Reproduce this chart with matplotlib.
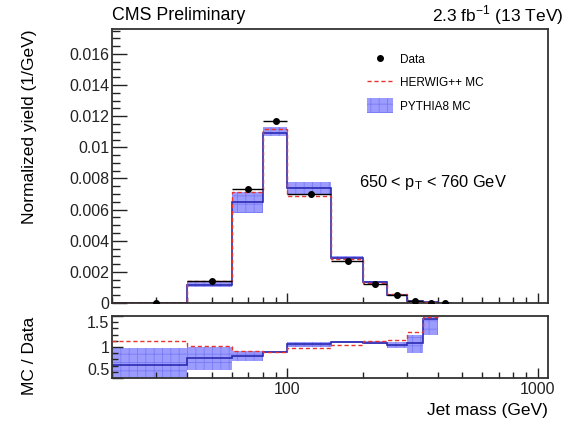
import numpy as np
import matplotlib
matplotlib.use("Agg")
import matplotlib.pyplot as plt
from matplotlib.ticker import LogLocator, MultipleLocator, FixedLocator, FixedFormatter, NullFormatter
from matplotlib.lines import Line2D
from matplotlib.patches import Patch

plt.rcParams['font.family'] = ['Liberation Sans', 'DejaVu Sans']
plt.rcParams['hatch.linewidth'] = 0.6

# ---- data ----
edges = [20, 40, 60, 80, 100, 150, 200, 250, 300, 350, 400]
data_x = [30, 50, 70, 90, 125, 175, 225, 275, 325, 375, 425]
data_xerr = [10, 10, 10, 10, 25, 25, 25, 25, 25, 25, 25]
data_y = [0.00001, 0.0014, 0.0073, 0.0117, 0.0070, 0.0027, 0.0012, 0.0005, 0.0001, 0.00003, 0.00002]

pythia = [0.00001, 0.00115, 0.0065, 0.0109, 0.0074, 0.0029, 0.00135, 0.0005, 0.00015, 0.00005]
pythia_lo = [0.00000, 0.0010, 0.0058, 0.0107, 0.0070, 0.0028, 0.00128, 0.00046, 0.00012, 0.00003]
pythia_hi = [0.00002, 0.0014, 0.0071, 0.0113, 0.00776, 0.0030, 0.00142, 0.00055, 0.00018, 0.00006]
herwig = [0.00001, 0.0014, 0.0071, 0.0112, 0.0069, 0.0028, 0.0013, 0.00055, 0.00014, 0.00005]

ratio_pythia = [0.71, 0.82, 0.86, 0.92, 1.05, 1.075, 1.07, 1.04, 1.06, 1.45]
ratio_lo = [0.40, 0.63, 0.77, 0.90, 1.005, 1.06, 1.05, 0.98, 0.91, 1.19]
ratio_hi = [0.98, 1.005, 0.93, 0.94, 1.08, 1.09, 1.09, 1.08, 1.19, 1.55]
ratio_herwig = [1.09, 1.02, 0.94, 0.925, 0.98, 1.04, 1.09, 1.11, 1.25, 1.48]

W, H = 571, 423
fig = plt.figure(figsize=(W / 100, H / 100), dpi=100)
fig.patch.set_facecolor('white')

def px_axes(x0, y0, x1, y1):
    return fig.add_axes([x0 / W, 1 - y1 / H, (x1 - x0) / W, (y1 - y0) / H])

ax = px_axes(112, 29, 548, 303)
rx = px_axes(112, 316, 548, 378)

band_fc = '#9c9cff'
band_ec = '#7a7af5'
blue = '#2b2bb0'
red = '#e8322d'
dash = (0, (3, 2))

# main panel
ax.stairs(pythia_hi, edges, baseline=pythia_lo, fill=True, facecolor=band_fc,
          edgecolor=band_ec, hatch='++', linewidth=0, zorder=1)
ax.stairs(pythia, edges, color=blue, linewidth=1.2, zorder=2)
ax.stairs(herwig, edges, color=red, linewidth=1.0, linestyle=dash, zorder=3)
ax.errorbar(data_x, data_y, xerr=data_xerr, fmt='o', color='black', ms=4,
            elinewidth=1.0, capsize=0, zorder=4)

ax.set_xscale('log')
ax.set_xlim(20, 1100)
ax.set_ylim(0, 0.0176)
ax.set_yticks([0, 0.002, 0.004, 0.006, 0.008, 0.010, 0.012, 0.014, 0.016])
ax.set_yticklabels(['0', '0.002', '0.004', '0.006', '0.008', '0.01', '0.012', '0.014', '0.016'])
ax.yaxis.set_minor_locator(MultipleLocator(0.0005))
ax.xaxis.set_major_locator(LogLocator(base=10, numticks=10))
ax.xaxis.set_minor_locator(LogLocator(base=10, subs=np.arange(2, 10), numticks=20))
ax.xaxis.set_major_formatter(NullFormatter())
ax.xaxis.set_minor_formatter(NullFormatter())
ax.set_ylabel('Normalized yield (1/GeV)', fontsize=12.5, loc='top')
ax.yaxis.set_label_coords(-0.172, 1.0)

# ratio panel
rx.stairs(ratio_hi, edges, baseline=ratio_lo, fill=True, facecolor=band_fc,
          edgecolor=band_ec, hatch='++', linewidth=0, zorder=1)
rx.stairs(ratio_pythia, edges, baseline=None, color=blue, linewidth=1.2, zorder=2)
rx.stairs(ratio_herwig, edges, baseline=None, color=red, linewidth=1.0, linestyle=dash, zorder=3)
rx.set_xscale('log')
rx.set_xlim(20, 1100)
rx.set_ylim(0.5, 1.5)
rx.set_yticks([0.5, 1.0, 1.5])
rx.set_yticklabels(['0.5', '1', '1.5'])
rx.yaxis.set_minor_locator(MultipleLocator(0.1))
rx.xaxis.set_major_locator(FixedLocator([100, 1000]))
rx.xaxis.set_major_formatter(FixedFormatter(['100', '1000']))
rx.xaxis.set_minor_locator(LogLocator(base=10, subs=np.arange(2, 10), numticks=20))
rx.xaxis.set_minor_formatter(NullFormatter())
rx.set_ylabel('MC / Data', fontsize=12.5)
rx.yaxis.set_label_coords(-0.172, 0.35)
rx.set_xlabel('Jet mass (GeV)', fontsize=12.5, loc='right', labelpad=4)

for a in (ax, rx):
    for s in a.spines.values():
        s.set_linewidth(1.3)
        s.set_color('#333333')
    a.tick_params(which='both', direction='in', top=False, right=False,
                  labelsize=11.5, width=1.0, colors='#222222')
    a.tick_params(axis='y', which='major', length=11, pad=2)
    a.tick_params(axis='y', which='minor', length=6)
    a.tick_params(axis='x', which='major', length=7, pad=3)
    a.tick_params(axis='x', which='minor', length=4)
rx.tick_params(axis='y', which='major', length=8)
rx.tick_params(axis='y', which='minor', length=4)

# ratio-panel edge labels sit inside the panel range, as in the reference
rlabels = rx.get_yticklabels()
rlabels[0].set_va('bottom')
rlabels[-1].set_va('top')

# texts
fig.text(112 / W, 1 - 15 / H, 'CMS Preliminary', fontsize=12.8, ha='left', va='center')
fig.text(563 / W, 1 - 15 / H, r'2.3 fb$^{\mathregular{-1}}$ (13 TeV)', fontsize=12.5,
         ha='right', va='center')
ax.text(0.567, 0.44, r'650 < p$_{\mathregular{T}}$ < 760 GeV', transform=ax.transAxes,
        fontsize=11.8, ha='left', va='center')

handles = [
    Line2D([], [], marker='o', linestyle='none', color='black', ms=4),
    Line2D([], [], color=red, linestyle=dash, linewidth=1.0),
    Patch(facecolor=band_fc, edgecolor=band_ec, hatch='++', linewidth=0),
]
ax.legend(handles, ['Data', 'HERWIG++ MC', 'PYTHIA8 MC'], loc='upper left',
          bbox_to_anchor=(0.56, 0.955), frameon=False, fontsize=8.5,
          handlelength=2.2, handleheight=1.5, labelspacing=0.75, handletextpad=0.6)

fig.savefig('out.png', dpi=100, facecolor='white')
